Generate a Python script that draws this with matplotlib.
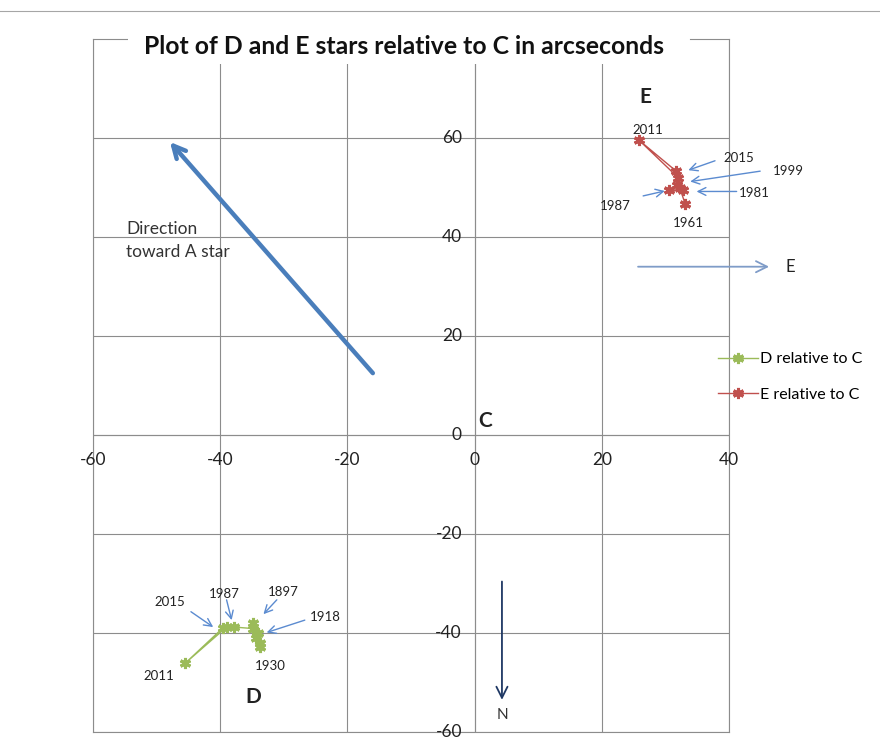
import matplotlib
matplotlib.use('Agg')
import matplotlib.pyplot as plt
from matplotlib.lines import Line2D
from matplotlib.patches import Rectangle

plt.rcParams['font.family'] = ['Lato', 'DejaVu Sans']

# D star relative to C (arcsec), chronological
d_x = [-34.9, -34.0, -33.7, -33.7, -34.3, -34.9, -37.8, -39.0, -45.5, -39.6]
d_y = [-37.9, -40.1, -42.8, -42.1, -41.1, -39.1, -38.8, -38.8, -46.1, -39.0]

# E star relative to C (arcsec), chronological
e_x = [33.1, 32.3, 32.7, 30.6, 31.9, 32.0, 25.9, 31.7]
e_y = [46.7, 49.8, 49.4, 49.4, 50.5, 52.0, 59.5, 53.3]

x_ticks = [-60, -40, -20, 0, 20, 40]
y_ticks = [-60, -40, -20, 0, 20, 40, 60]

# year labels: (text, label x, label y, arrow tail, arrow head)
d_labels = [
	('2015', -47.9, -33.8, (-44.6, -35.7), (-41.1, -38.8)),
	('1987', -39.4, -32.1, (-39.0, -33.3), (-38.2, -37.4)),
	('1897', -30.1, -31.7, (-31.1, -33.3), (-33.2, -36.2)),
	('1918', -23.4, -36.7, (-26.7, -37.4), (-32.7, -39.9)),
	('1930', -32.2, -46.7, None, None),
	('2011', -49.7, -48.7, None, None),
]
e_labels = [
	('2011', 27.2, 61.6, None, None),
	('2015', 41.6, 55.9, (37.8, 55.4), (33.6, 53.5)),
	('1999', 49.3, 53.3, (44.9, 53.3), (33.9, 51.2)),
	('1981', 44.0, 48.9, (41.2, 49.2), (34.9, 49.2)),
	('1987', 22.1, 46.3, (26.5, 48.3), (29.9, 49.3)),
	('1961', 33.6, 42.8, None, None),
]

green = '#9BBB59'
red = '#C0504D'
grid_col = '#8C8C8C'
note_blue = '#5B8BD0'

fig = plt.figure(figsize=(8.8, 7.4), dpi=100)
ax = fig.add_axes([93/880, 1-732/740, 636/880, 693/740])
ax.set_xlim(-60, 40)
ax.set_ylim(-60, 80)

ax.set_xticks(x_ticks)
ax.set_yticks(y_ticks)
ax.grid(True, color=grid_col, lw=0.8)
ax.tick_params(length=0, labelleft=False, labelbottom=False)
for s in ['left', 'right', 'bottom']:
	ax.spines[s].set_color(grid_col)
	ax.spines[s].set_linewidth(0.8)
ax.spines['top'].set_visible(False)
ax.axhline(0, color=grid_col, lw=0.8)
ax.axvline(0, color=grid_col, lw=0.8)

for t in x_ticks:
	ax.text(t, -5.1, str(t), ha='center', va='center', fontsize=12.5, color='#222222')
for t in y_ticks:
	ax.text(-2.0, t, str(t), ha='right', va='center', fontsize=12.5, color='#222222')

star = (6, 2, 0)
ax.plot(d_x, d_y, color=green, lw=1, marker=star, ms=8, mew=2.2, label='D relative to C', zorder=4)
ax.plot(e_x, e_y, color=red, lw=1, marker=star, ms=8, mew=2.2, label='E relative to C', zorder=4)

for lab, tx, ty, tail, head in d_labels + e_labels:
	ax.text(tx, ty, lab, ha='center', va='center', fontsize=9.5, color='#222222')
	if tail is not None:
		ax.annotate('', xy=head, xytext=tail,
			arrowprops=dict(arrowstyle='->', color=note_blue, lw=1, mutation_scale=14,
				shrinkA=0, shrinkB=0), annotation_clip=False)

ax.text(-34.8, -52.9, 'D', ha='center', va='center', fontsize=15, fontweight='bold', color='#222222')
ax.text(26.8, 68.3, 'E', ha='center', va='center', fontsize=15, fontweight='bold', color='#222222')
ax.text(1.6, 2.8, 'C', ha='center', va='center', fontsize=15, fontweight='bold', color='#222222')

# direction toward A star
ax.annotate('', xy=(-47.9, 59.2), xytext=(-16.0, 12.5),
	arrowprops=dict(arrowstyle='->', color='#4A7EBB', lw=3.2, mutation_scale=22,
		shrinkA=0, shrinkB=0))
ax.text(-54.8, 39.3, 'Direction\ntoward A star', ha='left', va='center', fontsize=12.5,
	color='#333333', linespacing=1.6)

# compass
ax.annotate('', xy=(46.3, 34.0), xytext=(25.7, 34.0),
	arrowprops=dict(arrowstyle='->', color='#7F9CC8', lw=1.3, mutation_scale=20,
		shrinkA=0, shrinkB=0), annotation_clip=False)
ax.text(49.6, 33.9, 'E', ha='center', va='center', fontsize=12, color='#222222', clip_on=False)
ax.annotate('', xy=(4.3, -53.5), xytext=(4.3, -29.6),
	arrowprops=dict(arrowstyle='->', color='#1F3864', lw=1.3, mutation_scale=20,
		shrinkA=0, shrinkB=0))
ax.text(4.3, -56.6, 'N', ha='center', va='center', fontsize=11, color='#333333')

# top frame with gap for the title
fig.add_artist(Line2D([93/880, 127/880], [1-39/740, 1-39/740], color=grid_col, lw=0.8))
fig.add_artist(Line2D([690/880, 729/880], [1-39/740, 1-39/740], color=grid_col, lw=0.8))
fig.add_artist(Line2D([0, 1], [1-11/740, 1-11/740], color='#A6A6A6', lw=0.8))

# title box sits over the plot area
fig.add_artist(Rectangle((128/880, 1-64/740), 561/880, 36/740, transform=fig.transFigure,
	facecolor='white', edgecolor='none', zorder=3))
fig.text(404/880, 1-46/740, 'Plot of D and E stars relative to C in arcseconds',
	ha='center', va='center', fontsize=17.8, fontweight='bold', color='#111111', zorder=4)

fig.legend(loc='upper left', bbox_to_anchor=(718/880, 1-352/740), frameon=False,
	fontsize=11.5, handlelength=2.5, handletextpad=0.15, borderpad=0, borderaxespad=0,
	labelspacing=1.35, numpoints=1)

fig.savefig('out.png', dpi=100)
